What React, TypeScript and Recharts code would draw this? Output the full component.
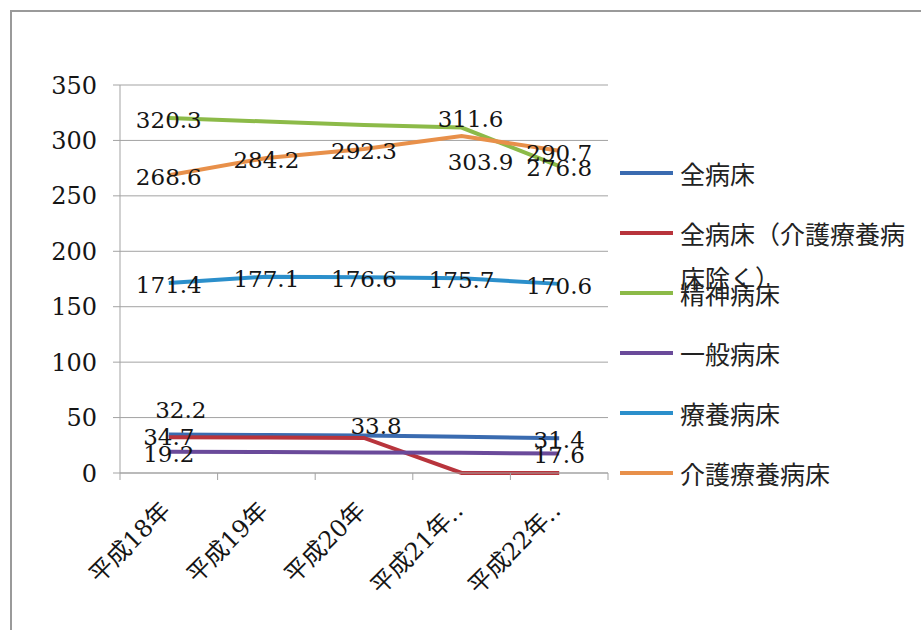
import { CartesianGrid, LabelList, Line, LineChart, XAxis, YAxis } from "recharts";

const categories = ["平成18年", "平成19年", "平成20年", "平成21年‥", "平成22年‥"];

const allBeds = [34.7, 34.2, 33.8, 32.6, 31.4];
const allBedsExclCare = [32.2, 32.0, 31.6, 0, 0];
const psychiatric = [320.3, 317.0, 314.0, 311.6, 276.8];
const general = [19.2, 19.0, 18.6, 18.2, 17.6];
const longTerm = [171.4, 177.1, 176.6, 175.7, 170.6];
const careLongTerm = [268.6, 284.2, 292.3, 303.9, 290.7];

const yTicks = [0, 50, 100, 150, 200, 250, 300, 350];

// which data labels are printed in the original
const shownAll = [true, false, true, false, true];
const shownExcl = [true, false, false, false, false];
const shownPsych = [true, false, false, true, true];
const shownGeneral = [true, false, false, false, true];
const shownLong = [true, true, true, true, true];
const shownCare = [true, true, true, true, true];

const series = [
  { key: "all", name: "全病床", values: allBeds, shown: shownAll, color: "#3A6BB0" },
  { key: "excl", name: "全病床（介護療養病床除く）", values: allBedsExclCare, shown: shownExcl, color: "#B8343C" },
  { key: "psych", name: "精神病床", values: psychiatric, shown: shownPsych, color: "#8CBA48" },
  { key: "general", name: "一般病床", values: general, shown: shownGeneral, color: "#6A4A9A" },
  { key: "long", name: "療養病床", values: longTerm, shown: shownLong, color: "#2B8FCB" },
  { key: "care", name: "介護療養病床", values: careLongTerm, shown: shownCare, color: "#E8904A" },
];

// hand nudges of a few overlapping labels, [dx, dy]
const labelNudge: Record<string, Record<number, [number, number]>> = {
  all: { 2: [12, -12] },
  excl: { 0: [12, -29] },
  psych: { 3: [9, -11] },
  care: { 3: [19, 24] },
};

const data = categories.map((cat, i) => {
  const row: Record<string, string | number> = { cat };
  series.forEach((s) => {
    row[s.key] = s.values[i];
  });
  return row;
});

const SERIF = "'DejaVu Serif', serif";
const GRID = "#a3a3a3";
const HALF_BAND = 48.8; // Excel puts the points between the category ticks

const makeLabel = (key: string, shown: boolean[]) => (props: any) => {
  const { index, value } = props;
  const x = props.x ?? props.viewBox?.x;
  const y = props.y ?? props.viewBox?.y;
  if (x == null || y == null || !shown[index]) return null;
  const [dx, dy] = labelNudge[key]?.[index] ?? [0, 0];
  return (
    <text
      x={x + dx}
      y={y + dy + 2}
      textAnchor="middle"
      dominantBaseline="central"
      style={{ fontFamily: SERIF, fontSize: 23 }}
      fill="#151515"
    >
      {Number(value).toFixed(1)}
    </text>
  );
};

const XTick = (props: any) => {
  const { x, y, payload, index, visibleTicksCount } = props;
  const last = index === visibleTicksCount - 1;
  const tx = x + 3;
  const ty = y + 39;
  return (
    <g>
      <line x1={x - HALF_BAND} x2={x - HALF_BAND} y1={y} y2={y + 7} stroke={GRID} />
      {last && <line x1={x + HALF_BAND} x2={x + HALF_BAND} y1={y} y2={y + 7} stroke={GRID} />}
      <text
        x={tx}
        y={ty}
        transform={`rotate(-45, ${tx}, ${ty})`}
        textAnchor="end"
        style={{ fontFamily: `${SERIF}, 'Noto Sans CJK JP'`, fontSize: 24 }}
        fill="#151515"
      >
        {payload.value}
      </text>
    </g>
  );
};

const YTick = (props: any) => {
  const { x, y, payload } = props;
  return (
    <text
      x={x}
      y={y}
      dy="0.36em"
      textAnchor="end"
      style={{ fontFamily: SERIF, fontSize: 24 }}
      fill="#151515"
    >
      {payload.value}
    </text>
  );
};

export default function App() {
  return (
    <div style={{ position: "relative", width: 921, height: 630, background: "#fff", overflow: "hidden" }}>
      <style>{`body{margin:0}`}</style>
      <div
        style={{
          position: "absolute",
          left: 10,
          top: 10,
          width: 920,
          height: 630,
          borderLeft: "2px solid #9a9a9a",
          borderTop: "2px solid #9a9a9a",
        }}
      />
      <LineChart
        width={921}
        height={630}
        data={data}
        margin={{ top: 85, right: 313, bottom: 0, left: 0 }}
      >
        <CartesianGrid horizontal vertical={false} stroke={GRID} />
        <XAxis
          dataKey="cat"
          interval={0}
          height={157}
          padding={{ left: HALF_BAND, right: HALF_BAND }}
          tickLine={false}
          tickSize={0}
          tickMargin={0}
          axisLine={{ stroke: GRID }}
          tick={<XTick />}
        />
        <YAxis
          domain={[0, 350]}
          ticks={yTicks}
          width={120}
          tickSize={7}
          tickMargin={16}
          axisLine={{ stroke: GRID }}
          tickLine={{ stroke: GRID }}
          tick={<YTick />}
        />
        {series.map((s) => (
          <Line
            key={s.key}
            dataKey={s.key}
            name={s.name}
            stroke={s.color}
            strokeWidth={4}
            dot={false}
            activeDot={false}
            isAnimationActive={false}
          >
            <LabelList dataKey={s.key} content={makeLabel(s.key, s.shown)} />
          </Line>
        ))}
      </LineChart>
      {series.map((s, i) => (
        <div
          key={s.key}
          style={{
            position: "absolute",
            left: 620,
            top: 151 + i * 60,
            display: "flex",
            alignItems: "flex-start",
          }}
        >
          <div style={{ width: 53, height: 4, marginTop: 20, background: s.color }} />
          <div
            style={{
              width: 236,
              marginLeft: 7,
              fontFamily: "'Noto Sans CJK JP', sans-serif",
              fontSize: 25,
              lineHeight: "44px",
              color: "#222",
            }}
          >
            {s.name}
          </div>
        </div>
      ))}
    </div>
  );
}
